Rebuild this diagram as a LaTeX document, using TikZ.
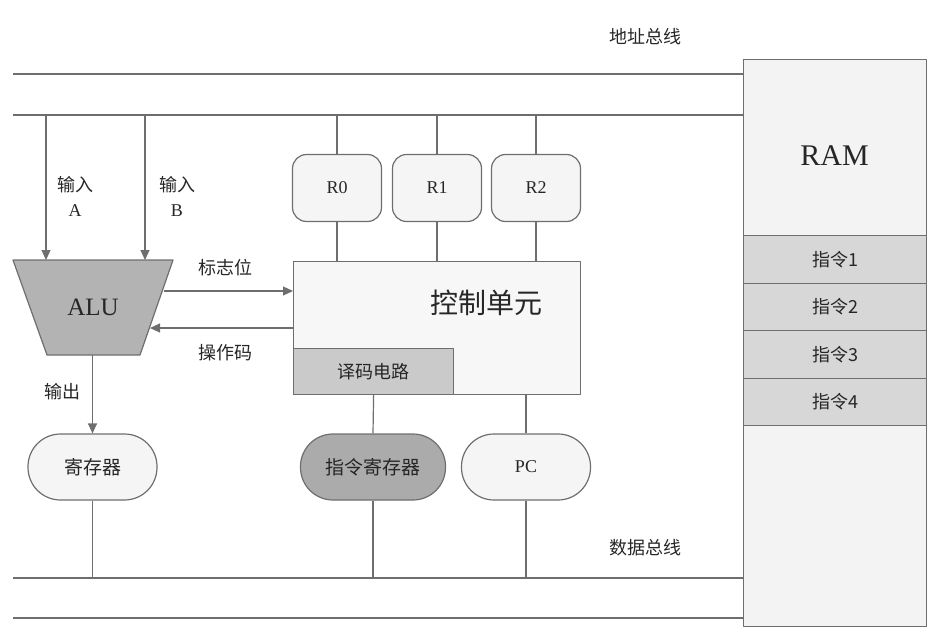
\documentclass[tikz,border=0pt]{standalone}
\usepackage{fontspec}
\setmainfont{Liberation Serif}
\newfontfamily\cjk{Noto Sans CJK SC}
\usetikzlibrary{arrows.meta}

\definecolor{wire}{HTML}{6E6E6E}
\definecolor{alufill}{HTML}{B3B3B3}
\definecolor{cufill}{HTML}{F7F7F7}
\definecolor{decfill}{HTML}{CACACA}
\definecolor{regfill}{HTML}{F5F5F5}
\definecolor{irfill}{HTML}{ABABAB}
\definecolor{ramfill}{HTML}{F3F3F3}
\definecolor{cellfill}{HTML}{D7D7D7}
\definecolor{ink}{HTML}{262626}

\begin{document}
\begin{tikzpicture}[
  x=1pt, y=-1pt,
  line join=round,
  wire/.style={draw=wire, line width=1.2pt},
  arr/.style={wire, -{Triangle[length=10pt,width=9pt]}},
  box/.style={draw=wire, line width=1.2pt, text=ink},
  reg/.style={box, fill=regfill, rounded corners=14pt, minimum width=89pt,
    minimum height=67pt, font=\fontsize{18}{20}\selectfont},
  pill/.style={box, rounded corners=32.5pt, minimum width=129pt,
    minimum height=66pt, font=\cjk\fontsize{19}{21}\selectfont},
  cell/.style={box, fill=cellfill, minimum width=183pt, minimum height=47.5pt,
    font=\cjk\fontsize{18}{20}\selectfont},
  lbl/.style={text=ink, inner sep=0pt, font=\cjk\fontsize{18}{20}\selectfont},
]
\useasboundingbox (0,0) rectangle (937,637);

% ── the two buses, each a pair of wires running into the RAM ──────────────
\coordinate (ab1) at (13,74);
\coordinate (ab2) at (13,115);
\coordinate (db1) at (13,578);
\coordinate (db2) at (13,618);

\node[box, fill=ramfill, minimum width=183pt, minimum height=567pt,
  anchor=north west] (ram) at (743,59) {};

\draw[wire] (ab1) -- (ab1 -| ram.west);
\draw[wire] (ab2) -- (ab2 -| ram.west);
\draw[wire] (db1) -- (db1 -| ram.west);
\draw[wire] (db2) -- (db2 -| ram.west);

\node[lbl] (abus) at (645,37) {地址总线};
\node[lbl] (dbus) at (645,548) {数据总线};

% ── RAM and the instructions held in it ───────────────────────────────────
\node[text=ink, font=\fontsize{30}{32}\selectfont] (ramlbl) at (834.5,156) {RAM};
\foreach \k [evaluate=\k as \ypos using 235+47.5*(\k-1)] in {1,...,4} {
  \node[cell, anchor=north west] (ins\k) at (743,\ypos) {指令\k};
}

% ── ALU: a trapezium, wide side up ────────────────────────────────────────
\coordinate (alutl) at (13,260);
\coordinate (alutr) at (173,260);
\coordinate (alubr) at (140,355);
\coordinate (alubl) at (47,355);
\draw[wire, fill=alufill] (alutl) -- (alutr) -- (alubr) -- (alubl) -- cycle;
\node[text=ink, font=\fontsize{25}{27}\selectfont] (alu) at (93,307) {ALU};

\coordinate (inA) at (46,260);
\coordinate (inB) at (145,260);
\draw[arr] (inA |- ab2) -- (inA);
\draw[arr] (inB |- ab2) -- (inB);
\node[lbl, align=center] (inAlbl) at (75,196) {输入\\[5pt]{\rmfamily A}};
\node[lbl, align=center] (inBlbl) at (177,196) {输入\\[5pt]{\rmfamily B}};

% ── control unit with the decoder in its corner ───────────────────────────
\node[box, fill=cufill, minimum width=287pt, minimum height=133pt,
  anchor=north west] (cu) at (293,261) {};
\node[text=ink, font=\cjk\fontsize{28}{30}\selectfont] (culbl) at (486,303) {控制单元};
\node[box, fill=decfill, minimum width=160pt, minimum height=46pt,
  anchor=south west, font=\cjk\fontsize{18}{20}\selectfont] (dec) at (cu.south west) {译码电路};

\coordinate (flag) at (164,291);
\coordinate (opc) at (150,328);
\draw[arr] (flag) -- (flag -| cu.west);
\draw[arr] (opc -| cu.west) -- (opc);
\node[lbl] (flaglbl) at (225,268) {标志位};
\node[lbl] (opclbl) at (225,353) {操作码};

% ── general registers between address bus and control unit ────────────────
\foreach \name/\xpos in {R0/337, R1/437, R2/536} {
  \node[reg] (\name) at (\xpos,188) {\name};
  \draw[wire] (\name.north |- ab2) -- (\name.north);
  \draw[wire] (\name.south) -- (\name.south |- cu.north);
}

% ── the registers on the data bus ─────────────────────────────────────────
\node[pill, fill=regfill] (acc) at (92.5,467) {寄存器};
\node[pill, fill=irfill, minimum width=145pt] (ir) at (373,467) {指令寄存器};
\node[pill, fill=regfill, font=\fontsize{18}{20}\selectfont] (pc) at (526,467) {PC};

\draw[arr] (acc.north |- alubl) -- (acc.north);
\node[lbl] (outlbl) at (62,392) {输出};
\draw[wire] (dec.south) -- (ir.north);
\draw[wire] (pc.north |- cu.south) -- (pc.north);

\draw[wire] (acc.south) -- (acc.south |- db1);
\draw[wire] (ir.south) -- (ir.south |- db1);
\draw[wire] (pc.south) -- (pc.south |- db1);

\end{tikzpicture}
\end{document}
